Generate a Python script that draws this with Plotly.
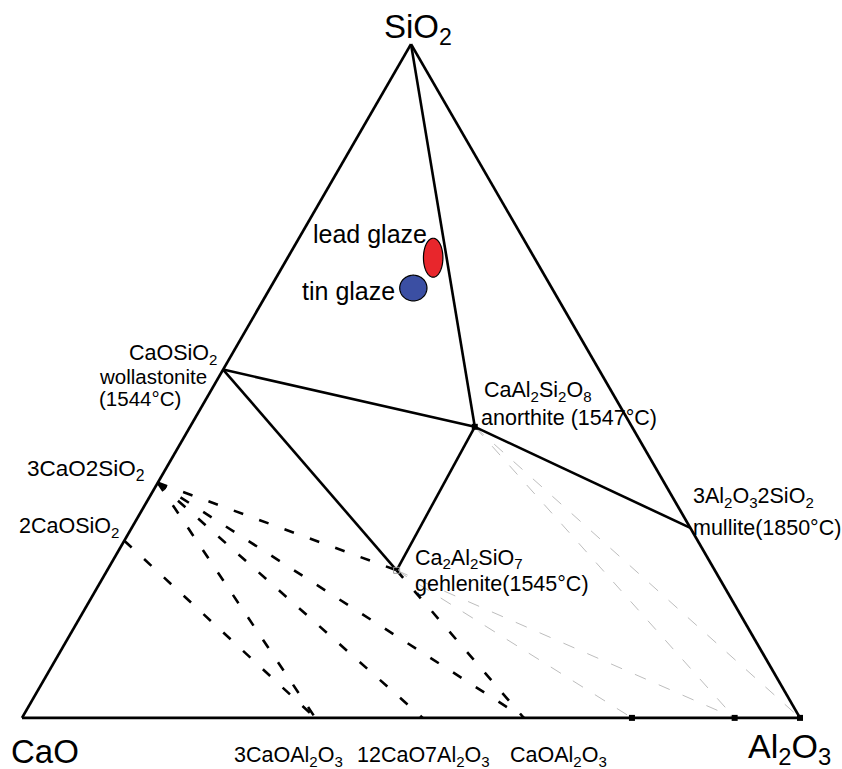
import numpy as np
import plotly.graph_objects as go

# Phase compositions in the CaO-Al2O3-SiO2 system (wt%)
phases = ["SiO2", "CaO", "Al2O3", "CS", "C2S", "C3S", "CAS2", "C2AS",
          "A3S2", "C3A", "C12A7", "CA", "CA2", "CA6"]
sio2 = [100.0, 0.0, 0.0, 51.7, 34.9, 26.3, 43.2, 21.9, 28.2, 0.0, 0.0, 0.0, 0.0, 0.0]
cao = [0.0, 100.0, 0.0, 48.3, 65.1, 73.7, 20.2, 40.9, 0.0, 62.3, 48.5, 35.5, 21.6, 8.4]
al2o3 = [0.0, 0.0, 100.0, 0.0, 0.0, 0.0, 36.6, 37.2, 71.8, 37.7, 51.5, 64.5, 78.4, 91.6]

# Compatibility joins
solid_joins = [("SiO2", "CAS2"), ("CS", "CAS2"), ("CAS2", "A3S2"),
               ("CS", "C2AS"), ("C2AS", "CAS2")]
dashed_joins = [("C2S", "C2AS"), ("C2S", "CA"), ("C2S", "C12A7"),
                ("C2S", "C3A"), ("C3S", "C3A"), ("C2AS", "CA")]
faint_joins = [("CAS2", "Al2O3"), ("CAS2", "CA6"), ("C2AS", "CA6"), ("C2AS", "CA2")]

# Glaze composition fields (centre, wt%)
glazes = ["lead glaze", "tin glaze"]
glaze_sio2 = [68.3, 63.8]
glaze_cao = [13.0, 17.8]
glaze_al2o3 = [18.7, 18.4]

comp = {p: (s, c, a) for p, s, c, a in zip(phases, sio2, cao, al2o3)}

FONT = "Liberation Sans, Arial, sans-serif"


def join_trace(pairs, color, width, dash):
    A, B, C = [], [], []
    for p, q in pairs:
        for k in (p, q):
            s, ca, al = comp[k]
            A.append(s)
            B.append(ca)
            C.append(al)
        A.append(None)
        B.append(None)
        C.append(None)
    return go.Scatterternary(
        a=A, b=B, c=C, mode="lines", connectgaps=False, cliponaxis=False,
        line=dict(color=color, width=width, dash=dash), hoverinfo="skip",
    )


fig = go.Figure()
fig.add_trace(join_trace(faint_joins, "#bdbdbd", 1, "12px,14px"))
fig.add_trace(join_trace(dashed_joins, "#000000", 2.6, "10px,17px"))
fig.add_trace(join_trace(solid_joins, "#000000", 2.6, "solid"))

# small markers on the Al2O3-rich side and at anorthite
mk = ["CA2", "CA6", "Al2O3", "CAS2"]
fig.add_trace(go.Scatterternary(
    a=[comp[k][0] for k in mk], b=[comp[k][1] for k in mk], c=[comp[k][2] for k in mk],
    mode="markers", cliponaxis=False, hoverinfo="skip",
    marker=dict(symbol="square", size=6, color="#000000", line=dict(width=0)),
))
fig.add_trace(go.Scatterternary(
    a=[comp["C2AS"][0]], b=[comp["C2AS"][1]], c=[comp["C2AS"][2]],
    mode="markers", cliponaxis=False, hoverinfo="skip",
    marker=dict(symbol="square-open", size=6, color="#999999", line=dict(width=1)),
))

# glaze fields drawn as filled ellipses around their centre compositions
glaze_style = {
    "lead glaze": dict(color="#e8262c", rx=1.25, ry=2.5),
    "tin glaze": dict(color="#3b4fa3", rx=1.75, ry=1.65),
}
t = np.linspace(0, 2 * np.pi, 91)
for name, s0, c0, a0 in zip(glazes, glaze_sio2, glaze_cao, glaze_al2o3):
    st = glaze_style[name]
    dx = st["rx"] * np.cos(t)
    dy = st["ry"] * np.sin(t)
    da = dy * 2 / np.sqrt(3)
    fig.add_trace(go.Scatterternary(
        a=s0 + da, b=c0 - dx - da / 2, c=a0 + dx - da / 2,
        mode="lines", fill="toself", fillcolor=st["color"], cliponaxis=False,
        line=dict(color="#000000", width=1.2), hoverinfo="skip",
    ))

# labels inside the triangle, anchored at (SiO2, CaO, Al2O3) with text to the right
inner_labels = [
    ("lead glaze", 71.39, 26.90, 1.71, 25),
    ("tin glaze", 62.93, 32.54, 4.53, 25),
    ("CaAl<sub>2</sub>Si<sub>2</sub>O<sub>8</sub>", 48.42, 16.41, 35.17, 21.5),
    ("anorthite (1547°C)", 44.26, 18.87, 36.87, 21.5),
    ("Ca<sub>2</sub>Al<sub>2</sub>SiO<sub>7</sub>", 23.49, 37.74, 38.77, 21.5),
    ("gehlenite(1545°C)", 19.63, 39.67, 40.70, 21.5),
]
for size in sorted({lb[4] for lb in inner_labels}):
    grp = [lb for lb in inner_labels if lb[4] == size]
    fig.add_trace(go.Scatterternary(
        a=[g[1] for g in grp], b=[g[2] for g in grp], c=[g[3] for g in grp],
        text=[g[0] for g in grp], mode="text", textposition="middle right",
        cliponaxis=False, hoverinfo="skip",
        textfont=dict(family=FONT, size=size, color="#000000"),
    ))

# labels outside the triangle (paper coordinates): text, x, y, xanchor, size
outer_labels = [
    ("SiO<sub>2</sub>", 0.4640, 1.0221, "left", 33),
    ("CaO", -0.0154, -0.0497, "left", 33),
    ("Al<sub>2</sub>O<sub>3</sub>", 0.9320, -0.0454, "left", 34),
    ("CaOSiO<sub>2</sub>", 0.2519, 0.5398, "right", 21.5),
    ("wollastonite", 0.2391, 0.5067, "right", 20.5),
    ("(1544°C)", 0.2057, 0.4745, "right", 20.5),
    ("3CaO2SiO<sub>2</sub>", 0.0823, 0.3677, "center", 22.5),
    ("2CaOSiO<sub>2</sub>", -0.0051, 0.2831, "left", 21.5),
    ("3Al<sub>2</sub>O<sub>3</sub>2SiO<sub>2</sub>", 0.8612, 0.3276, "left", 21.5),
    ("mullite(1850°C)", 0.8612, 0.2826, "left", 21.5),
    ("3CaOAl<sub>2</sub>O<sub>3</sub>", 0.2712, -0.0567, "left", 21.5),
    ("12CaO7Al<sub>2</sub>O<sub>3</sub>", 0.4293, -0.0567, "left", 21.5),
    ("CaOAl<sub>2</sub>O<sub>3</sub>", 0.6259, -0.0567, "left", 21.5),
]
annotations = [
    dict(text=txt, x=x, y=y, xref="paper", yref="paper", xanchor=xa, yanchor="middle",
         showarrow=False, font=dict(family=FONT, size=size, color="#000000"), borderpad=0)
    for txt, x, y, xa, size in outer_labels
]

axis_style = dict(
    showline=True, linecolor="#000000", linewidth=2.7,
    showgrid=False, ticks="", showticklabels=False, title=dict(text=""),
)
fig.update_layout(
    width=842, height=769,
    margin=dict(l=22, r=42, t=44, b=51),
    paper_bgcolor="#ffffff",
    showlegend=False,
    annotations=annotations,
    ternary=dict(
        sum=100, bgcolor="#ffffff",
        domain=dict(x=[0, 1], y=[0, 1]),
        aaxis=axis_style, baxis=axis_style, caxis=axis_style,
    ),
    font=dict(family=FONT, color="#000000"),
)

fig.write_html("out.html", config={"displayModeBar": False})
